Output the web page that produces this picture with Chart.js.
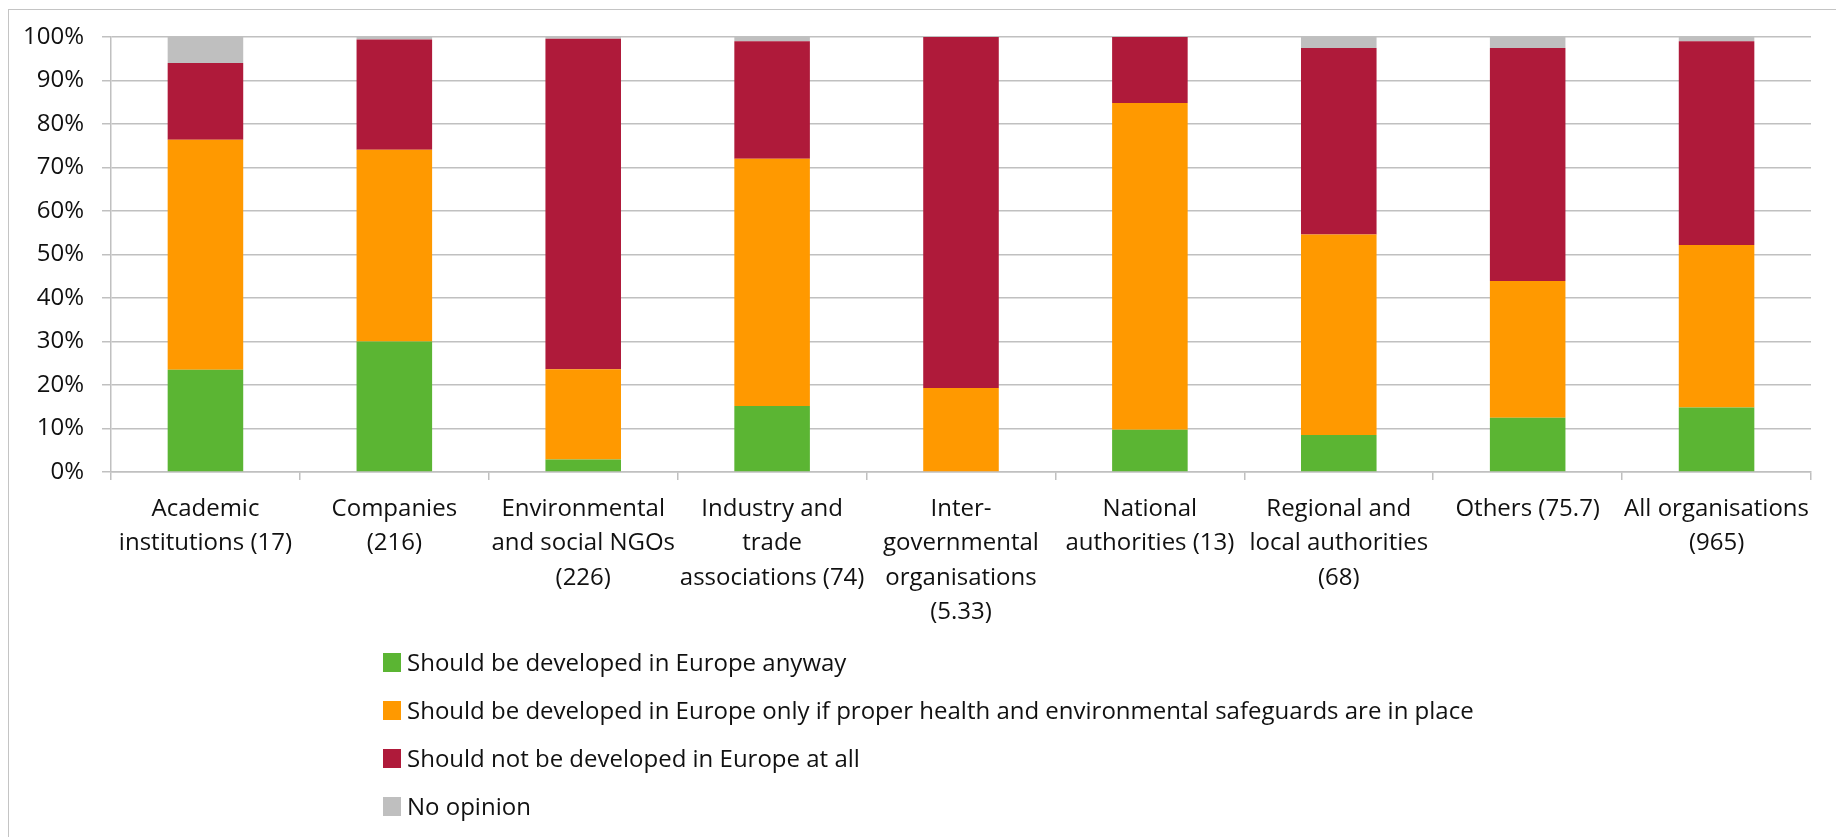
<!DOCTYPE html>
<html>
<head>
<meta charset="utf-8">
<script src="https://cdn.jsdelivr.net/npm/chart.js@4"></script>
<style>
  html, body { margin: 0; padding: 0; background: #fff; }
  #wrap { position: relative; width: 1836px; height: 837px; overflow: hidden; }
  #frame { position: absolute; left: 8px; top: 9px; width: 1900px; height: 900px;
           border-top: 1.5px solid #c4c4c4; border-left: 1.5px solid #c4c4c4; }
  #myChart { position: absolute; left: 0; top: 0; }
  #legend { position: absolute; left: 383px; top: 650px; font-family: 'Open Sans', sans-serif;
            font-size: 24px; color: #111; line-height: 24px; }
  #legend div { height: 48px; display: flex; align-items: flex-start; }
  #legend span.box { display: inline-block; width: 18px; height: 19px; margin-top: 3px; margin-right: 6px; }
</style>
</head>
<body>
<div id="wrap">
  <div id="frame"></div>
  <canvas id="myChart" width="1836" height="837"></canvas>
  <div id="legend"></div>
</div>
<script>
// categorias (numero de respuestas entre parentesis)
const categorias = [
  ['Academic', 'institutions (17)'],
  ['Companies', '(216)'],
  ['Environmental', 'and social NGOs', '(226)'],
  ['Industry and', 'trade', 'associations (74)'],
  ['Inter-', 'governmental', 'organisations', '(5.33)'],
  ['National', 'authorities (13)'],
  ['Regional and', 'local authorities', '(68)'],
  ['Others (75.7)'],
  ['All organisations', '(965)']
];
// porcentajes
const anyway    = [23.5, 30.0, 2.9, 15.2, 0, 9.7, 8.5, 12.5, 14.8];
const onlyIf    = [52.9, 44.1, 20.7, 56.8, 19.3, 75.1, 46.1, 31.4, 37.4];
const notAtAll  = [17.6, 25.3, 76.0, 27.0, 80.7, 15.2, 42.9, 53.6, 46.8];
const noOpinion = [6.0, 0.6, 0.4, 1.0, 0, 0, 2.5, 2.5, 1.0];

const etiquetas = [
  'Should be developed in Europe anyway',
  'Should be developed in Europe only if proper health and environmental safeguards are in place',
  'Should not be developed in Europe at all',
  'No opinion'
];
const colores = ['#5BB533', '#FF9900', '#AF1A3A', '#BFBFBF'];
const yTicks = [0, 10, 20, 30, 40, 50, 60, 70, 80, 90, 100];

const series = [anyway, onlyIf, notAtAll, noOpinion];
const gridColor = '#c0c0c0';

let plot = () => {
  const ctx = document.getElementById('myChart');
  const dataset = {
    labels: categorias,
    datasets: series.map((s, i) => ({
      label: etiquetas[i],
      data: s,
      backgroundColor: colores[i],
      borderWidth: 0,
      barPercentage: 0.40,
      categoryPercentage: 1
    }))
  };
  const config = {
    type: 'bar',
    data: dataset,
    options: {
      responsive: false,
      animation: false,
      layout: { padding: { left: 0, top: 37, right: 25, bottom: 0 } },
      plugins: { legend: { display: false }, tooltip: { enabled: false } },
      scales: {
        x: {
          stacked: true,
          grid: { offset: true, drawOnChartArea: false, drawTicks: true, tickLength: 8, color: gridColor, lineWidth: 1.5 },
          border: { color: gridColor, width: 1.5 },
          ticks: {
            color: '#111', padding: 12, maxRotation: 0, autoSkip: false,
            font: { family: 'Open Sans', size: 24, lineHeight: 1.43 }
          },
          afterFit: (scale) => { scale.height = 837 - 472; }
        },
        y: {
          stacked: true,
          min: 0, max: 100,
          afterBuildTicks: (scale) => { scale.ticks = yTicks.map(v => ({ value: v })); },
          grid: { color: gridColor, lineWidth: 1.5, tickLength: 9 },
          border: { color: gridColor, width: 1.5 },
          ticks: {
            color: '#111', padding: 18,
            font: { family: 'Open Sans', size: 24 },
            callback: (v) => v + '%'
          },
          afterFit: (scale) => { scale.width = 111; }
        }
      }
    }
  };
  let chart = new Chart(ctx, config);

  /* LEYENDA VERTICAL */
  const leg = document.getElementById('legend');
  chart.data.datasets.forEach(d => {
    const row = document.createElement('div');
    const box = document.createElement('span');
    box.className = 'box';
    box.style.background = d.backgroundColor;
    row.appendChild(box);
    row.appendChild(document.createTextNode(d.label));
    leg.appendChild(row);
  });
};

plot();
</script>
</body>
</html>
